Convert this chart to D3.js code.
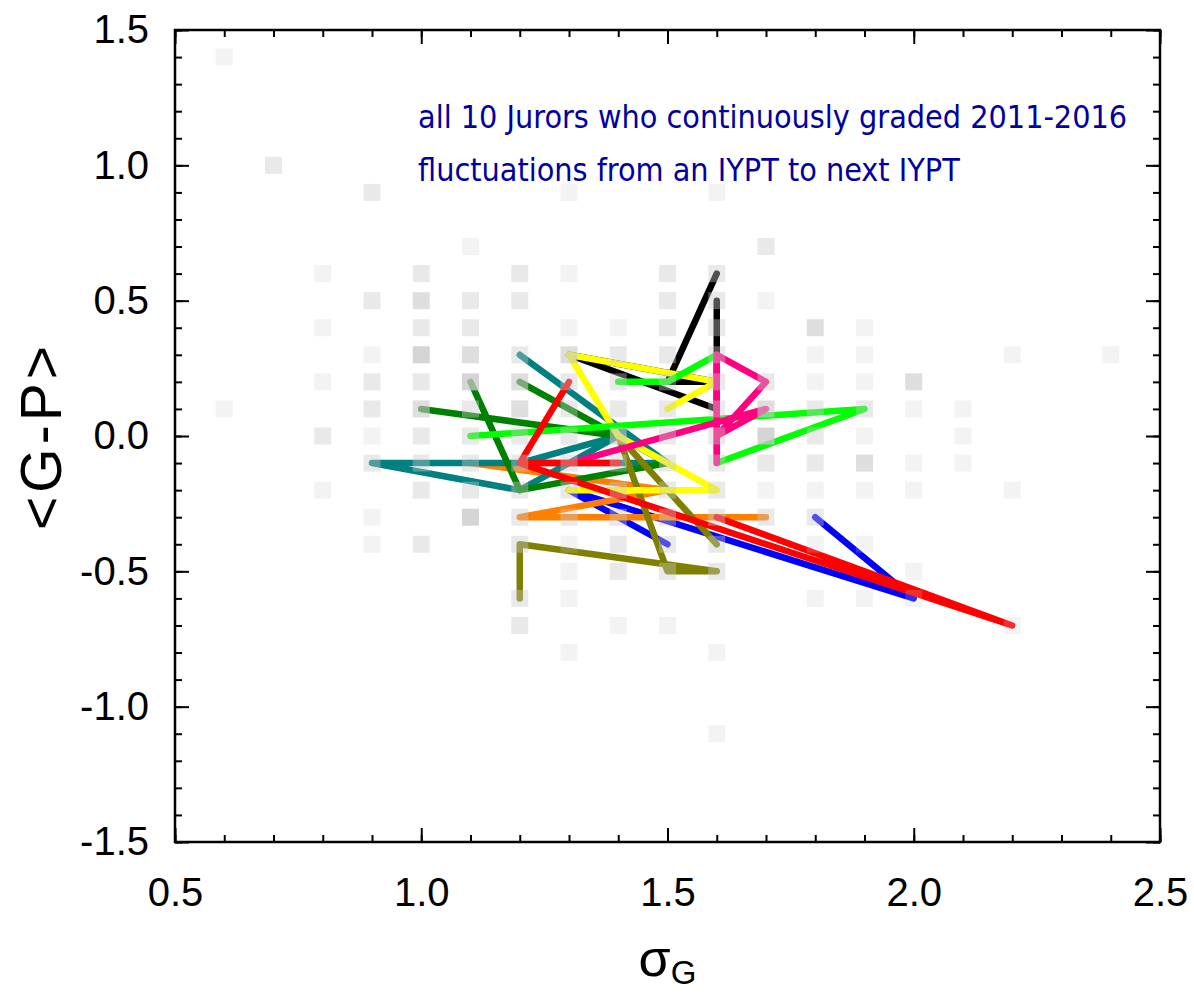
<!DOCTYPE html>
<html><head><meta charset="utf-8">
<script src="https://cdn.jsdelivr.net/npm/d3@7"></script>
<style>body{margin:0;background:#fff}svg{display:block}</style>
</head><body>
<svg id="chart" width="1194" height="994"></svg>
<script>
// ---- data ----
const xTickValues = [0.5, 1.0, 1.5, 2.0, 2.5];
const yTickValues = [-1.5, -1.0, -0.5, 0.0, 0.5, 1.0, 1.5];
const noteLines = ["all 10 Jurors who continuously graded 2011-2016",
                   "fluctuations from an IYPT to next IYPT"];
// background density squares: [sigma_G, <G-P>, density level 1..4]
const densityCells = [
 [0.6,1.4,1],[0.7,1.0,2],[0.9,0.9,2],[1.3,0.9,1],[1.6,0.9,1],[1.1,0.7,1],[1.7,0.7,2],
 [0.8,0.6,1],[1.0,0.6,2],[1.2,0.6,2],[1.3,0.6,1],[1.5,0.6,2],[1.6,0.6,2],
 [0.9,0.5,2],[1.0,0.5,3],[1.1,0.5,2],[1.2,0.5,2],[1.5,0.5,2],[1.6,0.5,2],[1.7,0.5,1],
 [0.8,0.4,1],[1.0,0.4,2],[1.1,0.4,2],[1.3,0.4,1],[1.4,0.4,1],[1.5,0.4,2],[1.6,0.4,2],[1.8,0.4,3],[1.9,0.4,1],
 [0.9,0.3,1],[1.0,0.3,4],[1.1,0.3,3],[1.2,0.3,2],[1.3,0.3,3],[1.4,0.3,2],[1.5,0.3,2],[1.6,0.3,2],[1.8,0.3,1],[1.9,0.3,1],[2.2,0.3,1],[2.4,0.3,1],
 [0.8,0.2,1],[0.9,0.2,2],[1.0,0.2,2],[1.1,0.2,4],[1.2,0.2,3],[1.3,0.2,2],[1.4,0.2,2],[1.5,0.2,2],[1.6,0.2,2],[1.7,0.2,2],[1.8,0.2,1],[1.9,0.2,1],[2.0,0.2,3],
 [0.6,0.1,1],[0.9,0.1,2],[1.0,0.1,3],[1.1,0.1,2],[1.2,0.1,3],[1.3,0.1,2],[1.4,0.1,2],[1.5,0.1,2],[1.6,0.1,2],[1.7,0.1,3],[1.8,0.1,2],[1.9,0.1,2],[2.0,0.1,1],[2.1,0.1,1],
 [0.8,0.0,2],[0.9,0.0,1],[1.0,0.0,2],[1.1,0.0,2],[1.2,0.0,2],[1.3,0.0,2],[1.4,0.0,3],[1.5,0.0,2],[1.6,0.0,2],[1.7,0.0,4],[1.8,0.0,2],[1.9,0.0,1],[2.1,0.0,1],
 [0.9,-0.1,2],[1.0,-0.1,2],[1.1,-0.1,2],[1.2,-0.1,2],[1.3,-0.1,2],[1.4,-0.1,2],[1.5,-0.1,2],[1.6,-0.1,2],[1.7,-0.1,2],[1.8,-0.1,2],[1.9,-0.1,3],[2.0,-0.1,1],[2.1,-0.1,1],
 [0.8,-0.2,1],[1.0,-0.2,2],[1.1,-0.2,2],[1.2,-0.2,2],[1.3,-0.2,2],[1.4,-0.2,2],[1.5,-0.2,2],[1.6,-0.2,2],[1.7,-0.2,1],[1.8,-0.2,1],[1.9,-0.2,1],[2.0,-0.2,1],[2.2,-0.2,1],
 [0.9,-0.3,1],[1.1,-0.3,4],[1.2,-0.3,2],[1.3,-0.3,2],[1.4,-0.3,2],[1.5,-0.3,2],[1.6,-0.3,2],[1.7,-0.3,2],[1.8,-0.3,2],
 [0.9,-0.4,1],[1.0,-0.4,2],[1.2,-0.4,2],[1.3,-0.4,1],[1.4,-0.4,2],[1.5,-0.4,2],[1.6,-0.4,2],[1.8,-0.4,1],[1.9,-0.4,1],
 [1.3,-0.5,1],[1.4,-0.5,2],[1.5,-0.5,2],[1.6,-0.5,2],[2.0,-0.5,1],
 [1.2,-0.6,2],[1.3,-0.6,1],[1.8,-0.6,1],[1.9,-0.6,1],[2.0,-0.6,1],
 [1.2,-0.7,2],[1.4,-0.7,1],[1.5,-0.7,1],[2.2,-0.7,1],
 [1.3,-0.8,1],[1.6,-0.8,1],[1.6,-1.1,1]
];
// juror trajectories [sigma_G, <G-P>] year by year
const jurorBlue      = [[1.5,-0.4],[1.3,-0.2],[2.0,-0.6],[1.8,-0.3]];
const jurorOrange    = [[1.1,-0.1],[1.5,-0.2],[1.2,-0.3],[1.7,-0.3]];
const jurorTeal      = [[1.2,0.3],[1.5,-0.1],[0.9,-0.1],[1.2,-0.2],[1.4,0.0],[1.2,-0.1]];
const jurorDarkGreen = [[1.1,0.2],[1.2,-0.2],[1.5,-0.1],[1.2,0.2],[1.4,0.0],[1.0,0.1]];
const jurorOlive     = [[1.2,-0.6],[1.2,-0.4],[1.6,-0.5],[1.5,-0.5],[1.4,0.0],[1.6,-0.4]];
const jurorBlack     = [[1.6,0.5],[1.6,0.1],[1.3,0.3],[1.6,0.2],[1.5,0.2],[1.6,0.6]];
const jurorYellow    = [[1.5,0.1],[1.6,0.2],[1.3,0.3],[1.4,0.0],[1.6,-0.2],[1.3,-0.2]];
const jurorLime      = [[1.4,0.2],[1.5,0.2],[1.6,0.3],[1.6,-0.1],[1.9,0.1],[1.1,0.0]];
const jurorPink      = [[1.6,-0.1],[1.6,0.3],[1.7,0.2],[1.6,0.0],[1.7,0.1],[1.3,-0.1]];
const jurorRed       = [[1.4,-0.1],[1.2,-0.1],[1.3,0.2],[1.2,-0.1],[2.2,-0.7],[1.6,-0.3]];
const jurorColors = ["#0000ff","#ff8000","#008080","#008000","#808000","#000000","#ffff00","#00ff00","#ff0080","#ff0000"];
const jurors = [jurorBlue,jurorOrange,jurorTeal,jurorDarkGreen,jurorOlive,jurorBlack,jurorYellow,jurorLime,jurorPink,jurorRed];

// ---- layout ----
const L = 175, R = 1160, T = 30, B = 842;
const svg = d3.select("#chart");
const x = d3.scaleLinear().domain([0.5, 2.5]).range([L, R]);
const y = d3.scaleLinear().domain([-1.5, 1.5]).range([B, T]);
const fmt = d => d3.format(".1f")(d).replace("\u2212", "-");

// lines
const line = d3.line().x(d => x(d[0])).y(d => y(d[1]));
svg.append("g").selectAll("path").data(jurors).join("path")
  .attr("d", line).attr("fill", "none")
  .attr("stroke", (d, i) => jurorColors[i])
  .attr("stroke-width", 6.5).attr("stroke-linecap", "round").attr("stroke-linejoin", "round");

// density squares drawn over the lines, semi-transparent
const cell = 17;
const alpha = {1: 0.22, 2: 0.4, 3: 0.6, 4: 0.76};
svg.append("g").selectAll("rect").data(densityCells).join("rect")
  .attr("x", d => x(d[0]) - cell / 2).attr("y", d => y(d[1]) - cell / 2)
  .attr("width", cell).attr("height", cell)
  .attr("fill", "rgb(200,200,200)").attr("fill-opacity", d => alpha[d[2]]);

// axes
const minorX = d3.range(5, 26).map(v => v / 10);
const minorY = d3.range(-15, 16).map(v => v / 10);
function styleAxis(g) {
  g.selectAll("path.domain").remove();
  g.selectAll("line").attr("stroke", "#000").attr("stroke-width", 2);
}
const fontTicks = "'Liberation Sans', Arial, sans-serif";
svg.append("g").attr("transform", `translate(0,${B})`)
  .call(d3.axisBottom(x).tickValues(minorX).tickSize(-7).tickFormat("")).call(styleAxis);
svg.append("g").attr("transform", `translate(0,${B})`)
  .call(d3.axisBottom(x).tickValues(xTickValues).tickSize(-14).tickPadding(36).tickFormat(fmt))
  .call(styleAxis)
  .call(g => g.selectAll("text").attr("font-family", fontTicks).attr("font-size", 40).attr("fill", "#000"));
svg.append("g").attr("transform", `translate(0,${T})`)
  .call(d3.axisTop(x).tickValues(minorX).tickSize(-7).tickFormat("")).call(styleAxis);
svg.append("g").attr("transform", `translate(0,${T})`)
  .call(d3.axisTop(x).tickValues(xTickValues).tickSize(-14).tickFormat("")).call(styleAxis);
svg.append("g").attr("transform", `translate(${L},0)`)
  .call(d3.axisLeft(y).tickValues(minorY).tickSize(-7).tickFormat("")).call(styleAxis);
svg.append("g").attr("transform", `translate(${L},0)`)
  .call(d3.axisLeft(y).tickValues(yTickValues).tickSize(-14).tickPadding(26).tickFormat(fmt))
  .call(styleAxis)
  .call(g => g.selectAll("text").attr("font-family", fontTicks).attr("font-size", 40).attr("fill", "#000"));
svg.append("g").attr("transform", `translate(${R},0)`)
  .call(d3.axisRight(y).tickValues(minorY).tickSize(-7).tickFormat("")).call(styleAxis);
svg.append("g").attr("transform", `translate(${R},0)`)
  .call(d3.axisRight(y).tickValues(yTickValues).tickSize(-14).tickFormat("")).call(styleAxis);

// frame
svg.append("rect").attr("x", L).attr("y", T).attr("width", R - L).attr("height", B - T)
  .attr("fill", "none").attr("stroke", "#000").attr("stroke-width", 2.5);

// axis titles
svg.append("text").attr("transform", `translate(61,${(T + B) / 2}) rotate(-90)`)
  .attr("text-anchor", "middle").attr("font-family", fontTicks).attr("font-size", 57)
  .attr("letter-spacing", 4)
  .text("<G-P>");
const xt = svg.append("text").attr("x", (L + R) / 2).attr("y", 976)
  .attr("text-anchor", "middle").attr("font-family", fontTicks).attr("font-size", 52);
xt.append("tspan").text("σ");
xt.append("tspan").attr("font-size", 33).attr("dy", 8).text("G");

// annotation
svg.append("g").selectAll("text").data(noteLines).join("text")
  .attr("x", 418).attr("y", (d, i) => 128 + i * 53)
  .attr("font-family", "'DejaVu Sans Condensed', 'DejaVu Sans', sans-serif")
  .attr("font-stretch", "condensed")
  .attr("font-size", 32).attr("fill", "#0000a0").text(d => d);
</script>
</body></html>
